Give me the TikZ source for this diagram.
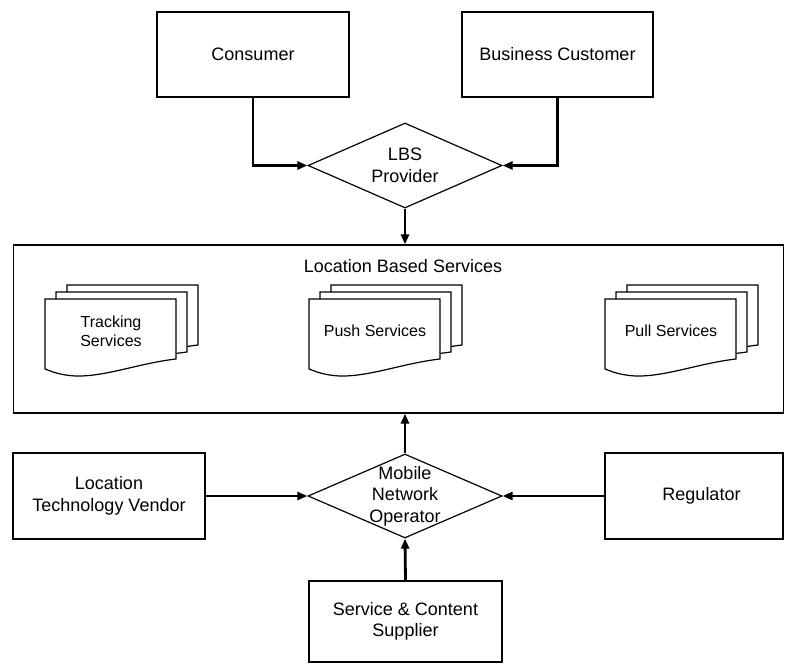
\documentclass[tikz,border=0pt]{standalone}
\usepackage{fontspec}
\setmainfont{Liberation Sans}
\usetikzlibrary{shapes.geometric,arrows.meta}

\tikzset{
  rolebox/.style={draw, line width=1.2pt, inner sep=0pt, align=center,
    font=\fontsize{18}{21.6}\selectfont},
  decision/.style={diamond, draw, line width=1.2pt, inner sep=0pt,
    minimum width=194pt, minimum height=85pt},
  caption/.style={inner sep=0pt, align=center, font=\fontsize{18}{21.6}\selectfont},
  doctext/.style={inner sep=0pt, align=center, font=\fontsize{16}{19}\selectfont},
  docline/.style={draw, line width=1.2pt, fill=white, line join=miter},
  conn/.style={line width=2.8pt, -{Triangle[length=10pt,width=8pt]}},
}

% a stack of three documents; #1 = left edge of the front sheet, #2 = node name, #3 = text
\newcommand{\docstack}[3]{%
  \foreach \k in {2,1,0}{%
    \path[docline, shift={(#1+11*\k, 299-7*\k)}]
      (0,0) -- (131,0) -- (131,60)
      .. controls (95,64) and (60,78) .. (30,77)
      .. controls (15,76) and (8,73) .. (0,70) -- cycle;
  }
  \node[doctext] (#2) at (#1+66, 331) {#3};
}

\begin{document}
\begin{tikzpicture}[x=1pt, y=-1pt]
  \path[use as bounding box, fill=white] (0,0) rectangle (785,664);

  % customers and provider
  \node[rolebox, minimum width=192pt, minimum height=85pt] (consumer) at (253,54.5) {Consumer};
  \node[rolebox, minimum width=191pt, minimum height=85pt] (business) at (557.5,54.5) {Business Customer};
  \node[decision] (lbs) at (405,165.5) {};
  \node[caption] (lbstext) at (lbs.center) {LBS\\Provider};

  % services block
  \node[draw, line width=1.2pt, minimum width=770pt, minimum height=168pt, inner sep=0pt] (services) at (398.5,329) {};
  \node[caption] (servicestitle) at (403,266) {Location Based Services};
  \docstack{45}{tracking}{Tracking\\Services}
  \docstack{309}{push}{Push Services}
  \docstack{605}{pull}{Pull Services}

  % network side
  \node[decision, minimum height=84pt] (mno) at (405,496) {};
  \node[caption] (mnotext) at (mno.center) {Mobile\\Network\\Operator};
  \node[rolebox, minimum width=192pt, minimum height=86pt] (vendor) at (109,496) {Location\\Technology Vendor};
  \node[rolebox, minimum width=178pt, minimum height=86pt] (regulator) at (694,496) {};
  \node[caption] (regtext) at (701.5,496) {Regulator};
  \node[rolebox, minimum width=193pt, minimum height=81pt] (supplier) at (405.5,621.5) {Service \& Content\\Supplier};

  % connectors
  \draw[conn] (consumer.south) |- (lbs.west);
  \draw[conn] (business.south) |- (lbs.east);
  \draw[conn] (lbs.south) -- (lbs.south |- services.north);
  \draw[conn] (mno.north) -- (mno.north |- services.south);
  \draw[conn] (vendor.east) -- (mno.west);
  \draw[conn] (regulator.west) -- (mno.east);
  \draw[conn] (supplier.north) -- (mno.south);
\end{tikzpicture}
\end{document}
